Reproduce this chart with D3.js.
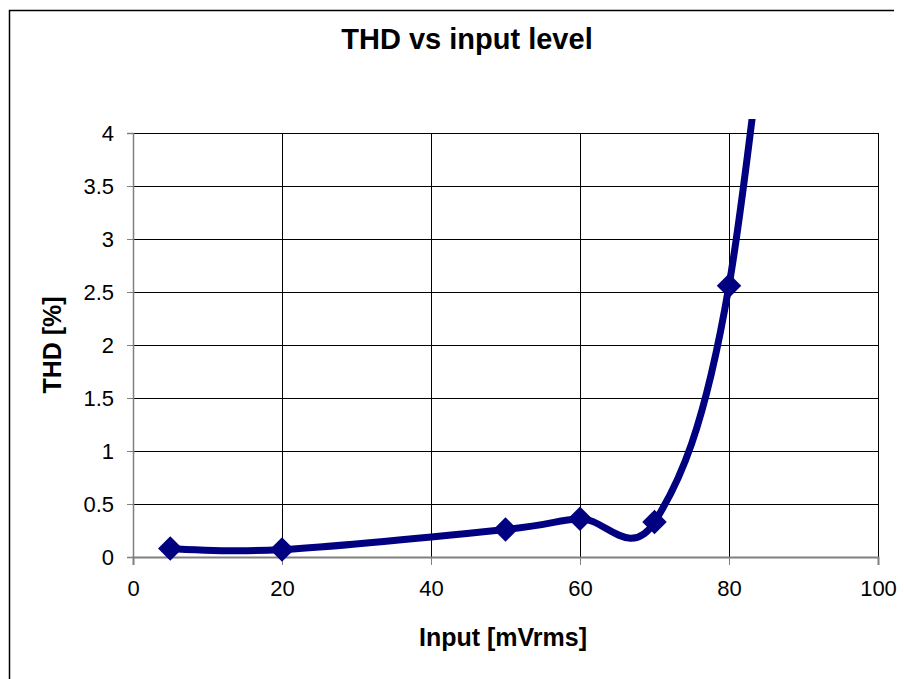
<!DOCTYPE html>
<html><head><meta charset="utf-8">
<script src="https://cdn.jsdelivr.net/npm/d3@7"></script>
<style>body{margin:0;background:#fff;} svg{display:block;}</style>
</head><body>
<script>
const inputLevels = [5, 20, 50, 60, 70, 80, 90];
const thdValues = [0.08, 0.07, 0.26, 0.36, 0.33, 2.56, 8.5];
const xTicks = [0, 20, 40, 60, 80, 100];
const yTicks = [0, 0.5, 1, 1.5, 2, 2.5, 3, 3.5, 4];
const chartTitle = "THD vs input level";
const xTitle = "Input [mVrms]";
const yTitle = "THD [%]";

const W = 904, H = 679;
const svg = d3.select("body").append("svg").attr("width", W).attr("height", H);
svg.append("rect").attr("width", W).attr("height", H).attr("fill", "#fff");
// chart border
svg.append("path").attr("d", "M894,10.5H9.5V679").attr("fill", "none").attr("stroke", "#000").attr("stroke-width", 1.5);

const x = d3.scaleLinear().domain([0, 100]).range([133, 878]);
const y = d3.scaleLinear().domain([0, 4]).range([557, 133]);
const font = "Arial, 'Liberation Sans', sans-serif";

// grid
svg.append("g").selectAll("line").data(yTicks.filter(d => d > 0)).join("line")
  .attr("x1", x(0)).attr("x2", x(100)).attr("y1", d => Math.round(y(d)) + 0.5).attr("y2", d => Math.round(y(d)) + 0.5)
  .attr("stroke", "#000").attr("stroke-width", 1);
svg.append("g").selectAll("line").data(xTicks.filter(d => d > 0)).join("line")
  .attr("x1", d => Math.round(x(d)) + 0.5).attr("x2", d => Math.round(x(d)) + 0.5).attr("y1", y(4)).attr("y2", y(0))
  .attr("stroke", "#000").attr("stroke-width", 1);

// axes
const xAxis = d3.axisBottom(x).tickValues(xTicks).tickSize(8).tickPadding(15).tickFormat(d3.format("d"));
const gx = svg.append("g").attr("transform", `translate(0,${y(0)})`).call(xAxis);
gx.select(".domain").attr("stroke", "#808080").attr("stroke-width", 2);
gx.selectAll(".tick line").attr("stroke", "#808080");
gx.selectAll("text").attr("font-family", font).attr("font-size", 22).attr("fill", "#000");

const yAxis = d3.axisLeft(y).tickValues(yTicks).tickSize(6).tickPadding(13).tickFormat(d => String(d));
const gy = svg.append("g").attr("transform", `translate(${x(0)},0)`).call(yAxis);
gy.select(".domain").attr("stroke", "#808080").attr("stroke-width", 1.5);
gy.selectAll(".tick line").attr("stroke", "#808080");
gy.selectAll("text").attr("font-family", font).attr("font-size", 22).attr("fill", "#000");

// titles
svg.append("text").attr("x", 467).attr("y", 49).attr("text-anchor", "middle")
  .attr("font-family", font).attr("font-weight", "bold").attr("font-size", 29).text(chartTitle);
svg.append("text").attr("x", 503).attr("y", 646).attr("text-anchor", "middle")
  .attr("font-family", font).attr("font-weight", "bold").attr("font-size", 25).text(xTitle);
svg.append("text").attr("transform", "translate(61,345) rotate(-90)").attr("text-anchor", "middle")
  .attr("font-family", font).attr("font-weight", "bold").attr("font-size", 25).text(yTitle);

// data line
const data = inputLevels.map((v, i) => ({x: v, y: thdValues[i]}));
svg.append("clipPath").attr("id", "clip").append("rect")
  .attr("x", x(0)).attr("y", 119).attr("width", x(100) - x(0)).attr("height", y(0) - 119 + 20);
const line = d3.line().x(d => x(d.x)).y(d => y(d.y)).curve(d3.curveCardinal.tension(0));
svg.append("path").datum(data).attr("d", line).attr("clip-path", "url(#clip)")
  .attr("fill", "none").attr("stroke", "#000080").attr("stroke-width", 7).attr("stroke-linejoin", "round");

// markers (diamonds)
svg.append("g").selectAll("path").data(data.filter(d => d.y <= 4)).join("path")
  .attr("d", d3.symbol().type(d3.symbolSquare).size(300)())
  .attr("transform", d => `translate(${x(d.x)},${y(d.y)}) rotate(45)`)
  .attr("fill", "#000080");
</script>
</body></html>
